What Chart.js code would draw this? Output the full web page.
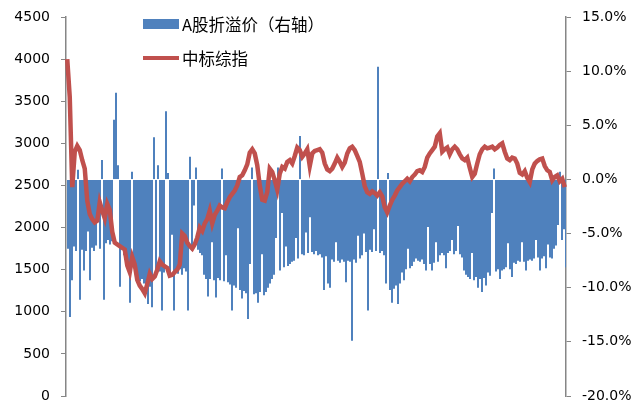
<!DOCTYPE html>
<html>
<head>
<meta charset="utf-8">
<script src="https://cdn.jsdelivr.net/npm/chart.js@4.4.1/dist/chart.umd.min.js"></script>
<style>
    body { margin: 0; background: #fff; }
    #wrap { position: relative; width: 639px; height: 408px; }
    .legend-item {
        position: absolute;
        left: 143px;
        font-family: 'Noto Sans CJK SC', sans-serif;
        font-size: 16.5px;
        color: #000;
        display: flex;
        align-items: center;
        white-space: nowrap;
    }
    .legend-item .swatch { width: 36px; margin-right: 3px; }
</style>
</head>
<body>
<div id="wrap">
    <canvas id="chart" width="639" height="408"></canvas>
    <div class="legend-item" style="top: 12px;">
        <span class="swatch" style="height: 10px; background: #4F81BD;"></span>A股折溢价（右轴）
    </div>
    <div class="legend-item" style="top: 46px;">
        <span class="swatch" style="height: 4px; background: #C0504D;"></span>中标综指
    </div>
</div>
<script>
// A股折溢价 (%, right axis), one bar per period
const premiumValues = [
    -6.4, -12.7, -9.3, -6.2, -6.6, 0.9, -11.1, -6.5, -8.4, -6.6,
    -4.8, -9.3, -6.3, -6.6, -6.1, -3.2, -6.4, 1.8, -11.1, -5.9,
    -5.6, -6.0, -5.7, 5.5, 8.0, 1.3, -9.9, -6.2, -7.0, -7.6,
    -8.0, -11.4, 0.7, -8.2, -8.7, -9.0, -9.4, -9.2, -9.6, -10.0,
    -11.5, -9.9, -11.8, 3.9, -8.8, 1.3, -8.5, -12.1, -8.6, 6.3,
    0.6, -8.6, -5.1, -12.1, -8.4, -8.7, -8.3, -8.8, -8.2, -8.5,
    -12.1, 2.1, -6.6, -2.4, 1.1, -6.5, -6.8, -7.0, -8.8, -9.2,
    -10.8, -9.2, -5.8, -9.3, -10.9, -9.1, -9.3, 1.0, -9.4, -7.0,
    -9.5, -9.7, -12.1, -9.8, -10.0, -4.5, -10.2, -11.0, -10.3, -10.5,
    -12.9, -7.8, 1.1, -10.6, -10.5, -11.4, -10.4, -6.9, -10.7, -10.4,
    -10.0, -9.6, -9.2, -8.8, -5.4, 1.1, -8.4, -3.1, -8.1, -6.2,
    -8.0, -7.8, -7.6, -7.5, -5.4, -7.3, 4.0, -6.9, -7.0, -4.9,
    -6.8, -3.5, -6.7, -6.9, -6.6, -7.0, -6.9, -7.2, -10.2, -7.1,
    -9.6, -10.0, -7.4, -7.6, -5.8, -7.5, -7.7, -7.4, -7.6, -9.5,
    -7.5, -7.6, -14.9, -7.4, -7.7, -5.2, -7.3, -7.0, -5.0, -6.7,
    -12.1, -6.5, -6.7, -4.6, -6.6, 10.4, -6.8, -6.6, -7.0, -9.6,
    0.6, -10.2, -11.4, -10.1, -9.8, -11.5, -9.6, -8.6, -9.3, -8.3,
    -6.4, -8.2, -8.0, -7.6, -7.3, -7.5, -7.6, -7.4, -7.8, -8.4,
    -4.4, -7.8, -8.4, -7.7, -5.8, -7.6, -7.0, -6.8, -7.0, -8.2,
    -6.8, -6.6, -5.6, -6.9, -6.6, -4.3, -6.9, -7.2, -8.4, -8.8,
    -9.0, -9.2, -6.8, -9.3, -9.0, -10.0, -9.2, -10.4, -9.1, -9.8,
    -8.6, -8.9, -3.1, 1.0, -8.5, -8.3, -9.2, -8.4, -8.3, -8.1,
    -5.9, -8.3, -9.0, -7.7, -7.8, -7.5, -7.6, -5.8, -7.6, -8.4,
    -7.5, -7.4, -7.5, -7.3, -5.6, -7.2, -8.4, -7.3, -7.1, -8.2,
    -6.0, -7.2, -7.3, -6.4, -6.1, -4.2, 0.7, -5.6, -4.6, -8.1
];

// 中标综指 (left axis)
const indexValues = [
    4000, 3550, 2480, 2900, 2970, 2920, 2800, 2700, 2320, 2160,
    2100, 2060, 2080, 2300, 2200, 2110, 2280, 2210, 1950, 1820,
    1800, 1780, 1760, 1740, 1550, 1470, 1650, 1560, 1380, 1310,
    1270, 1220, 1330, 1450, 1390, 1420, 1500, 1600, 1560, 1540,
    1520, 1430, 1440, 1470, 1500, 1560, 1930, 1900, 1820, 1780,
    1750, 1800, 1880, 2000, 1960, 2050, 2100, 2200, 2050, 2150,
    2200, 2260, 2240, 2230, 2300, 2360, 2400, 2440, 2500, 2600,
    2620, 2680, 2750, 2890, 2930, 2880, 2740, 2500, 2330, 2320,
    2420, 2700, 2660, 2560, 2450, 2640, 2720, 2700, 2780, 2800,
    2760, 2850, 2950, 2920, 2840, 2880, 2930, 2730, 2880, 2910,
    2920, 2930, 2890, 2760, 2690, 2670, 2700, 2760, 2830, 2780,
    2720, 2770, 2880, 2940, 2960, 2920, 2850, 2780, 2640, 2490,
    2420, 2400, 2430, 2410, 2380, 2420, 2370, 2240, 2180, 2260,
    2330, 2380, 2440, 2480, 2520, 2550, 2580, 2550, 2600, 2630,
    2670, 2680, 2660, 2720, 2830, 2880, 2920, 2960, 3080, 3120,
    2900, 2930, 2950, 2870, 2930, 2960, 2930, 2870, 2820, 2800,
    2830, 2710, 2600, 2640, 2760, 2870, 2930, 2960, 2940, 2950,
    2960, 2930, 2950, 2980, 3000, 2900, 2820, 2800, 2830, 2820,
    2760, 2650, 2630, 2670, 2590, 2540, 2690, 2760, 2790, 2810,
    2820, 2730, 2680, 2660, 2560, 2600, 2620, 2550, 2580, 2480
];

const barPeriods = premiumValues.map((v, i) => i + 1);
const linePeriods = indexValues.map((v, i) => i + 1);

const leftTicks = { min: 0, max: 4500, step: 500 };
const rightTicks = { min: -20, max: 15, step: 5 };

const axisColor = '#868686';
const tickFont = { family: "'DejaVu Sans', sans-serif", size: 14 };

// keep the plot area fixed: axis widths and no extra vertical tick padding
function fixAxis(width) {
    return s => {
        s.width = width;
        s.paddingTop = 0;
        s.paddingBottom = 0;
    };
}

new Chart(document.getElementById('chart'), {
    type: 'bar',
    data: {
        labels: barPeriods,
        datasets: [
            {
                type: 'line',
                label: '中标综指',
                data: indexValues,
                xAxisID: 'x2',
                yAxisID: 'y',
                borderColor: '#C0504D',
                borderWidth: 4.5,
                pointRadius: 0,
                tension: 0,
                order: 0
            },
            {
                type: 'bar',
                label: 'A股折溢价（右轴）',
                data: premiumValues,
                xAxisID: 'x',
                yAxisID: 'y1',
                backgroundColor: '#4F81BD',
                borderWidth: 0,
                inflateAmount: 0,
                // 500px plot / 250 bars: bars touch edge to edge
                barThickness: 2,
                order: 1
            }
        ]
    },
    options: {
        responsive: false,
        animation: false,
        layout: { padding: { top: 17, bottom: 12, left: 0, right: 0 } },
        plugins: {
            legend: { display: false },
            tooltip: { enabled: false }
        },
        scales: {
            x: { display: false, offset: true },
            x2: { type: 'category', labels: linePeriods, display: false, offset: true },
            y: {
                position: 'left',
                min: leftTicks.min,
                max: leftTicks.max,
                afterFit: fixAxis(66),
                border: { display: true, color: axisColor, width: 1.5 },
                grid: { drawOnChartArea: false, drawTicks: true, tickLength: 5, color: axisColor },
                ticks: {
                    stepSize: leftTicks.step,
                    color: '#000',
                    font: tickFont,
                    padding: 11,
                    callback: v => String(v)
                }
            },
            y1: {
                position: 'right',
                min: rightTicks.min,
                max: rightTicks.max,
                afterFit: fixAxis(73),
                border: { display: true, color: axisColor, width: 1.5 },
                grid: { drawOnChartArea: false, drawTicks: true, tickLength: 5, color: axisColor },
                ticks: {
                    stepSize: rightTicks.step,
                    color: '#000',
                    font: tickFont,
                    padding: 11,
                    callback: v => v.toFixed(1) + '%'
                }
            }
        }
    }
});
</script>
</body>
</html>
